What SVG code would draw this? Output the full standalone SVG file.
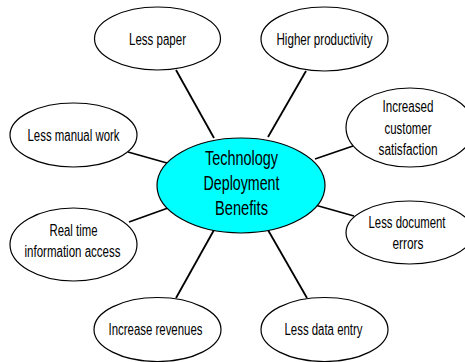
<svg xmlns="http://www.w3.org/2000/svg" width="465" height="362" viewBox="0 0 465 362">
<style>
.n{fill:#fff;stroke:#000;stroke-width:1.2}
.c{fill:#00ffff;stroke:#000;stroke-width:1.2}
.t{font-family:"Liberation Sans",Arial,sans-serif;font-size:16px;text-anchor:middle;fill:#000}
.tc{font-family:"Liberation Sans",Arial,sans-serif;font-size:21px;text-anchor:middle;fill:#000}
.e{stroke:#000;stroke-width:1.8;fill:none}
</style>
<g id="connectors">
<line class="e" x1="176" y1="70" x2="214" y2="138"/>
<line class="e" x1="306" y1="71" x2="268" y2="137"/>
<line class="e" x1="128" y1="152" x2="167" y2="163"/>
<line class="e" x1="353" y1="146" x2="315" y2="159"/>
<line class="e" x1="129" y1="222" x2="168" y2="208"/>
<line class="e" x1="354" y1="216" x2="315" y2="205"/>
<line class="e" x1="176" y1="298" x2="214" y2="230"/>
<line class="e" x1="307" y1="298" x2="268" y2="230"/>
</g>
<g id="less-paper"><ellipse class="n" cx="157.5" cy="38.5" rx="63" ry="31.5"/><text class="t" x="157.5" y="45" textLength="57" lengthAdjust="spacingAndGlyphs">Less paper</text></g>
<g id="higher-productivity"><ellipse class="n" cx="324.5" cy="39" rx="63.5" ry="32"/><text class="t" x="324.5" y="45" textLength="96" lengthAdjust="spacingAndGlyphs">Higher productivity</text></g>
<g id="less-manual-work"><ellipse class="n" cx="73.5" cy="135" rx="63.5" ry="32"/><text class="t" x="73.5" y="141" textLength="92" lengthAdjust="spacingAndGlyphs">Less manual work</text></g>
<g id="increased-customer-satisfaction"><ellipse class="n" cx="410" cy="127.5" rx="64" ry="39.5"/><text class="t" x="408" y="112" textLength="51" lengthAdjust="spacingAndGlyphs">Increased</text><text class="t" x="408" y="133.5" textLength="47" lengthAdjust="spacingAndGlyphs">customer</text><text class="t" x="408" y="155" textLength="59" lengthAdjust="spacingAndGlyphs">satisfaction</text></g>
<g id="center"><ellipse class="c" cx="241" cy="185.5" rx="84" ry="47.5"/><text class="tc" x="241.5" y="165" textLength="73" lengthAdjust="spacingAndGlyphs">Technology</text><text class="tc" x="241.5" y="190" textLength="76" lengthAdjust="spacingAndGlyphs">Deployment</text><text class="tc" x="241.5" y="215" textLength="53" lengthAdjust="spacingAndGlyphs">Benefits</text></g>
<g id="real-time-information-access"><ellipse class="n" cx="73.5" cy="244.5" rx="63.5" ry="36.5"/><text class="t" x="73.5" y="236" textLength="48" lengthAdjust="spacingAndGlyphs">Real time</text><text class="t" x="72.5" y="257" textLength="96" lengthAdjust="spacingAndGlyphs">information access</text></g>
<g id="less-document-errors"><ellipse class="n" cx="409.5" cy="232.5" rx="63.5" ry="31.5"/><text class="t" x="407" y="228" textLength="77" lengthAdjust="spacingAndGlyphs">Less document</text><text class="t" x="408" y="249" textLength="31" lengthAdjust="spacingAndGlyphs">errors</text></g>
<g id="increase-revenues"><ellipse class="n" cx="157.5" cy="329.5" rx="63.5" ry="32"/><text class="t" x="155.5" y="335" textLength="94" lengthAdjust="spacingAndGlyphs">Increase revenues</text></g>
<g id="less-data-entry"><ellipse class="n" cx="324.5" cy="329.5" rx="63.5" ry="32"/><text class="t" x="323.5" y="335" textLength="78" lengthAdjust="spacingAndGlyphs">Less data entry</text></g>
</svg>
